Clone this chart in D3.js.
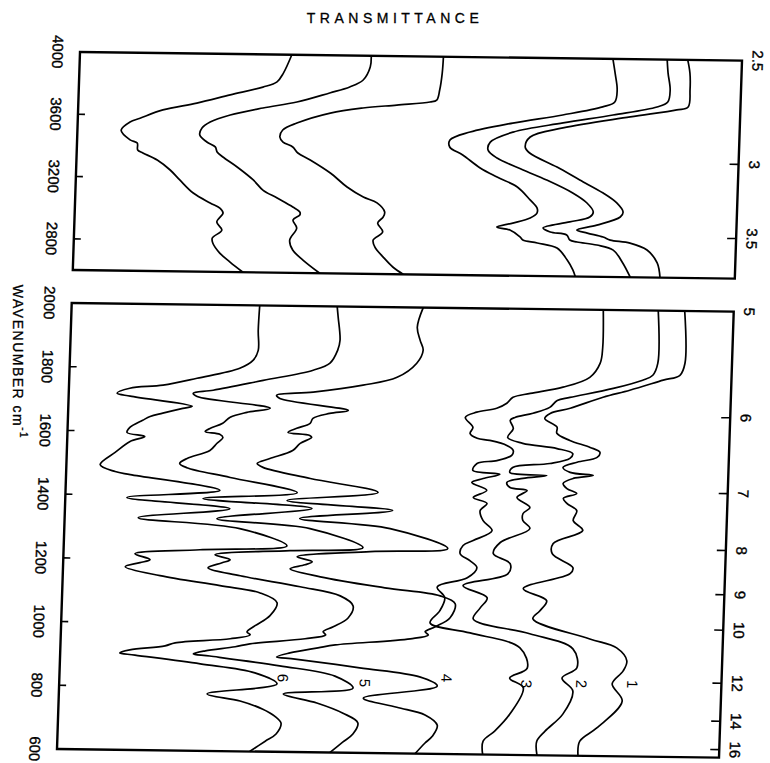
<!DOCTYPE html>
<html>
<head>
<meta charset="utf-8">
<title>IR spectra</title>
<script src="https://cdn.jsdelivr.net/npm/d3@7/dist/d3.min.js"></script>
<style>
  body { margin: 0; background: #fff; }
  svg { font-family: "Liberation Sans", Arial, sans-serif; }
</style>
</head>
<body>
<script>
// spectra: [wavenumber cm-1, transmittance %]
// 4000-2600 region (upper panel)
const c1Top = [[4000,91.8],[3916,92.2],[3807,92.3],[3698,92.1],[3678,90.4],[3629,83.4],[3553,73.3],[3492,68.4],[3427,67.7],[3389,68.4],[3301,72.6],[3220,76.1],[3138,79.7],[3076,81.8],[3018,82.8],[2986,82.4],[2932,78.9],[2899,75.9],[2880,77.5],[2856,79.9],[2837,81.0],[2819,84.0],[2776,86.6],[2694,88.2],[2600,88.7]];
const c2Top = [[4000,88.7],[3914,88.9],[3805,89.3],[3728,89.0],[3695,87.4],[3640,80.8],[3585,73.3],[3522,65.8],[3456,62.4],[3405,62.1],[3354,63.5],[3280,67.5],[3217,71.1],[3136,75.1],[3073,77.3],[3016,78.3],[2983,77.8],[2950,74.8],[2909,70.8],[2884,71.9],[2866,74.4],[2834,74.9],[2822,76.0],[2804,79.0],[2773,81.5],[2691,83.0],[2600,84.2]];
const c3Top = [[4000,80.5],[3910,80.9],[3801,81.3],[3724,81.0],[3691,79.2],[3636,73.2],[3580,65.7],[3519,59.3],[3466,56.3],[3421,56.3],[3371,58.3],[3289,61.0],[3232,63.6],[3170,66.7],[3088,68.7],[3036,69.8],[3004,69.8],[2972,68.8],[2938,66.2],[2911,63.8],[2893,65.8],[2849,67.4],[2830,67.8],[2812,70.0],[2781,73.0],[2705,74.6],[2642,75.5],[2600,75.9]];
const c4Top = [[4000,54.9],[3895,54.8],[3786,54.5],[3721,54.1],[3708,53.1],[3686,48.1],[3664,43.0],[3629,38.1],[3562,33.1],[3516,31.0],[3471,30.6],[3439,31.1],[3408,32.6],[3370,33.4],[3326,35.3],[3244,38.4],[3156,41.0],[3093,43.5],[3056,45.6],[2998,46.8],[2966,46.6],[2927,45.8],[2870,46.6],[2817,45.2],[2772,45.5],[2709,46.8],[2646,48.3],[2600,49.9]];
const c5Top = [[4000,44.0],[3928,43.9],[3844,42.9],[3798,40.9],[3758,37.9],[3697,33.0],[3656,27.9],[3608,23.0],[3561,20.0],[3522,18.8],[3477,18.5],[3433,19.6],[3402,20.9],[3370,21.2],[3338,22.1],[3275,24.3],[3193,26.8],[3129,28.3],[3079,30.5],[3023,32.9],[2991,34.0],[2972,34.0],[2939,33.0],[2888,33.6],[2810,32.6],[2747,33.1],[2683,34.7],[2600,37.3]];
const c6Top = [[4000,32.0],[3880,30.8],[3825,29.9],[3790,27.8],[3737,22.9],[3682,17.9],[3635,12.8],[3580,9.4],[3555,7.9],[3502,6.6],[3440,8.0],[3420,9.1],[3376,9.2],[3357,10.0],[3313,12.2],[3250,14.2],[3187,15.7],[3104,17.8],[3042,20.4],[3010,21.9],[2979,22.4],[2920,21.5],[2869,22.3],[2817,20.9],[2785,21.0],[2721,22.1],[2664,23.7],[2600,25.7]];

// 2000-600 region (lower panel)
const c1Bot = [[2000,92.6],[1836,92.9],[1798,92.2],[1782,89.7],[1749,84.7],[1726,80.7],[1690,75.8],[1673,72.8],[1657,72.0],[1630,73.9],[1611,73.9],[1589,75.9],[1568,79.0],[1553,80.5],[1537,80.1],[1521,77.1],[1504,75.0],[1489,76.1],[1480,79.6],[1470,76.6],[1454,75.1],[1438,75.7],[1423,77.2],[1407,75.2],[1391,75.8],[1369,77.3],[1338,76.8],[1307,78.3],[1265,73.9],[1233,73.8],[1190,77.0],[1171,76.6],[1122,69.6],[1085,73.2],[1053,72.2],[1028,71.2],[967,79.9],[940,84.0],[900,85.6],[868,85.1],[827,83.5],[773,85.1],[688,81.4],[646,78.9],[600,78.7]];
const c2Bot = [[2000,88.6],[1835,88.8],[1797,88.1],[1781,86.6],[1754,82.2],[1724,75.7],[1714,73.8],[1692,72.7],[1673,70.2],[1659,67.5],[1650,66.8],[1624,67.3],[1596,66.5],[1578,68.8],[1563,74.0],[1548,76.4],[1533,76.0],[1516,73.0],[1502,67.4],[1486,67.0],[1478,72.6],[1468,69.0],[1455,66.6],[1439,67.1],[1430,69.7],[1408,68.2],[1377,70.2],[1358,69.2],[1336,69.2],[1311,70.3],[1266,65.9],[1231,64.9],[1200,67.5],[1168,67.2],[1129,60.5],[1092,64.2],[1060,63.2],[1025,62.2],[981,70.8],[935,77.4],[876,78.1],[843,75.9],[803,77.6],[730,76.2],[676,73.6],[644,72.4],[600,72.5]];
const c3Bot = [[2000,80.3],[1883,80.4],[1833,80.1],[1788,78.6],[1756,74.6],[1735,69.7],[1722,67.1],[1703,66.2],[1687,64.7],[1674,61.7],[1657,60.0],[1626,61.2],[1607,60.8],[1592,61.9],[1586,63.8],[1571,66.4],[1555,67.4],[1540,67.2],[1523,65.0],[1513,62.0],[1491,61.4],[1480,65.5],[1466,63.0],[1453,61.3],[1429,63.6],[1406,61.6],[1388,63.7],[1365,62.7],[1334,63.2],[1303,64.6],[1271,61.8],[1255,60.3],[1229,59.9],[1208,61.4],[1186,62.5],[1154,61.1],[1124,56.6],[1090,57.8],[1049,57.1],[1011,55.7],[981,61.8],[936,69.4],[873,70.6],[841,68.0],[811,70.1],[728,68.2],[674,66.0],[642,64.3],[600,64.3]];
const c4Bot = [[2000,53.1],[1938,52.3],[1897,52.8],[1866,53.3],[1825,52.4],[1780,49.5],[1754,44.4],[1730,36.9],[1719,31.4],[1709,31.9],[1674,42.3],[1664,39.5],[1648,37.0],[1632,36.6],[1616,34.6],[1603,33.3],[1594,36.6],[1588,36.9],[1569,35.2],[1546,34.1],[1520,30.7],[1504,28.8],[1492,29.7],[1459,36.9],[1418,47.2],[1389,33.5],[1362,49.5],[1333,35.5],[1305,49.2],[1245,58.0],[1232,46.3],[1213,35.3],[1198,37.6],[1188,36.5],[1175,34.3],[1151,38.9],[1119,48.7],[1096,57.1],[1072,59.4],[1028,58.7],[999,56.5],[983,55.0],[973,55.5],[960,52.8],[938,41.5],[928,38.9],[911,34.7],[898,32.7],[892,35.5],[867,45.3],[841,54.4],[813,57.1],[772,46.0],[745,51.1],[722,55.4],[690,57.3],[655,56.6],[633,55.5],[600,54.1]];
const c5Bot = [[2000,40.1],[1967,40.3],[1894,40.7],[1863,40.4],[1822,39.3],[1799,36.8],[1765,29.3],[1732,21.8],[1722,18.8],[1712,19.4],[1678,30.5],[1664,27.0],[1648,24.5],[1629,23.4],[1612,21.5],[1602,20.8],[1594,23.0],[1584,23.5],[1565,22.6],[1543,21.6],[1517,18.2],[1501,17.1],[1488,18.2],[1459,24.8],[1414,35.0],[1392,20.8],[1365,37.3],[1329,23.0],[1302,37.1],[1244,45.2],[1232,34.2],[1216,22.9],[1201,25.2],[1191,24.0],[1175,21.9],[1151,26.8],[1119,35.9],[1092,42.0],[1061,44.0],[1023,43.3],[995,41.1],[979,39.6],[969,40.0],[956,36.9],[938,28.6],[928,26.4],[914,21.9],[904,20.1],[898,22.6],[870,33.2],[840,41.6],[803,44.4],[782,33.9],[755,39.0],[724,43.0],[694,45.3],[659,44.6],[633,43.1],[600,41.2]];
const c6Bot = [[2000,28.4],[1922,28.3],[1859,28.4],[1828,27.7],[1802,25.7],[1769,19.3],[1746,14.2],[1735,9.2],[1719,7.3],[1710,9.3],[1681,18.7],[1674,17.3],[1658,14.3],[1647,12.4],[1635,11.3],[1612,9.4],[1596,9.0],[1584,11.7],[1568,9.5],[1533,7.3],[1494,5.1],[1473,7.4],[1464,9.7],[1418,23.3],[1392,9.3],[1361,24.9],[1329,11.1],[1299,26.5],[1247,33.7],[1231,20.6],[1216,10.8],[1198,13.1],[1188,11.6],[1175,9.4],[1148,14.7],[1119,23.8],[1098,29.9],[1068,32.5],[1027,31.5],[995,29.3],[975,28.1],[966,28.6],[953,25.6],[938,17.3],[928,15.8],[914,10.5],[904,9.0],[898,11.3],[873,21.2],[847,29.5],[813,32.9],[779,22.4],[758,27.4],[734,30.8],[712,32.7],[690,33.7],[656,33.0],[633,31.4],[600,29.1]];

const curveNames = ["1", "2", "3", "4", "5", "6"];
const curveLabelAt = [[827,86.6],[825,78.9],[823,70.6],[839,58.5],[820,46.2],[832,33.8]];

// axes
const topWn = [4000, 3600, 3200, 2800];
const botWn = [2000, 1800, 1600, 1400, 1200, 1000, 800, 600];
const topMicron = [2.5, 3, 3.5];
const botMicron = [5, 6, 7, 8, 9, 10, 12, 14, 16];

const W = 662;
const svg = d3.select("body").append("svg")
  .attr("width", 770)
  .attr("height", 763);

svg.append("text")
  .attr("x", 395).attr("y", 23)
  .attr("text-anchor", "middle")
  .attr("font-size", 14)
  .attr("letter-spacing", 4.5)
  .attr("stroke", "#000").attr("stroke-width", 0.3)
  .text("TRANSMITTANCE");

// the scanned page is slightly skewed
const g = svg.append("g")
  .attr("transform", "matrix(1,0.013,-0.033,1,80,52)");

const x = d3.scaleLinear().domain([0, 100]).range([0, W]);
const yTop = d3.scaleLinear().domain([4000, 2600]).range([0, 218]);
const yBot = d3.scaleLinear().domain([2000, 600]).range([251, 697]);

const panels = [
  { y: yTop, curves: [c1Top, c2Top, c3Top, c4Top, c5Top, c6Top], wn: topWn, mic: topMicron },
  { y: yBot, curves: [c1Bot, c2Bot, c3Bot, c4Bot, c5Bot, c6Bot], wn: botWn, mic: botMicron }
];

panels.forEach(p => {
  const [y0, y1] = p.y.range();
  const [d0, d1] = p.y.domain();
  g.append("rect")
    .attr("x", 0).attr("y", y0)
    .attr("width", W).attr("height", y1 - y0)
    .attr("fill", "none")
    .attr("stroke", "#000")
    .attr("stroke-width", 2.4);

  const line = d3.line()
    .x(d => x(d[1]))
    .y(d => p.y(d[0]))
    .curve(d3.curveCatmullRom.alpha(0.5));

  g.selectAll(null)
    .data(p.curves)
    .enter().append("path")
    .attr("d", line)
    .attr("fill", "none")
    .attr("stroke", "#000")
    .attr("stroke-width", 1.7)
    .attr("stroke-linejoin", "round");

  // wavenumber ticks + labels (left)
  const inner = p.wn.filter(v => v !== d0 && v !== d1);
  g.selectAll(null).data(inner).enter().append("line")
    .attr("x1", 0).attr("x2", 7)
    .attr("y1", d => p.y(d)).attr("y2", d => p.y(d))
    .attr("stroke", "#000").attr("stroke-width", 1.6);
  g.selectAll(null).data(p.wn).enter().append("text")
    .attr("transform", d => `translate(-22,${p.y(d)}) rotate(90)`)
    .attr("text-anchor", "middle")
    .attr("dominant-baseline", "central")
    .attr("font-size", 15)
    .attr("stroke", "#000").attr("stroke-width", 0.35)
    .text(d => d);

  // wavelength ticks + labels (right)
  const micInner = p.mic.slice(1);
  g.selectAll(null).data(micInner).enter().append("line")
    .attr("x1", W).attr("x2", W - 9)
    .attr("y1", d => p.y(10000 / d)).attr("y2", d => p.y(10000 / d))
    .attr("stroke", "#000").attr("stroke-width", 1.6);
  g.selectAll(null).data(p.mic).enter().append("text")
    .attr("transform", d => `translate(${W + 16},${p.y(10000 / d)}) rotate(90)`)
    .attr("text-anchor", "middle")
    .attr("dominant-baseline", "central")
    .attr("font-size", 15)
    .attr("stroke", "#000").attr("stroke-width", 0.35)
    .text(d => d);
});

// curve numbers
g.selectAll(null).data(curveLabelAt).enter().append("text")
  .attr("transform", d => `translate(${x(d[1])},${yBot(d[0])}) rotate(90)`)
  .attr("text-anchor", "middle")
  .attr("dominant-baseline", "central")
  .attr("font-size", 15)
  .text((d, i) => curveNames[i]);

// axis title
const t = svg.append("text")
  .attr("transform", "translate(18,362) rotate(90)")
  .attr("text-anchor", "middle")
  .attr("dominant-baseline", "central")
  .attr("font-size", 14)
  .attr("letter-spacing", 1.5)
  .attr("stroke", "#000").attr("stroke-width", 0.3);
t.append("tspan").text("WAVENUMBER  cm");
t.append("tspan").attr("baseline-shift", "super").attr("font-size", 10).text("-1");
</script>
</body>
</html>
